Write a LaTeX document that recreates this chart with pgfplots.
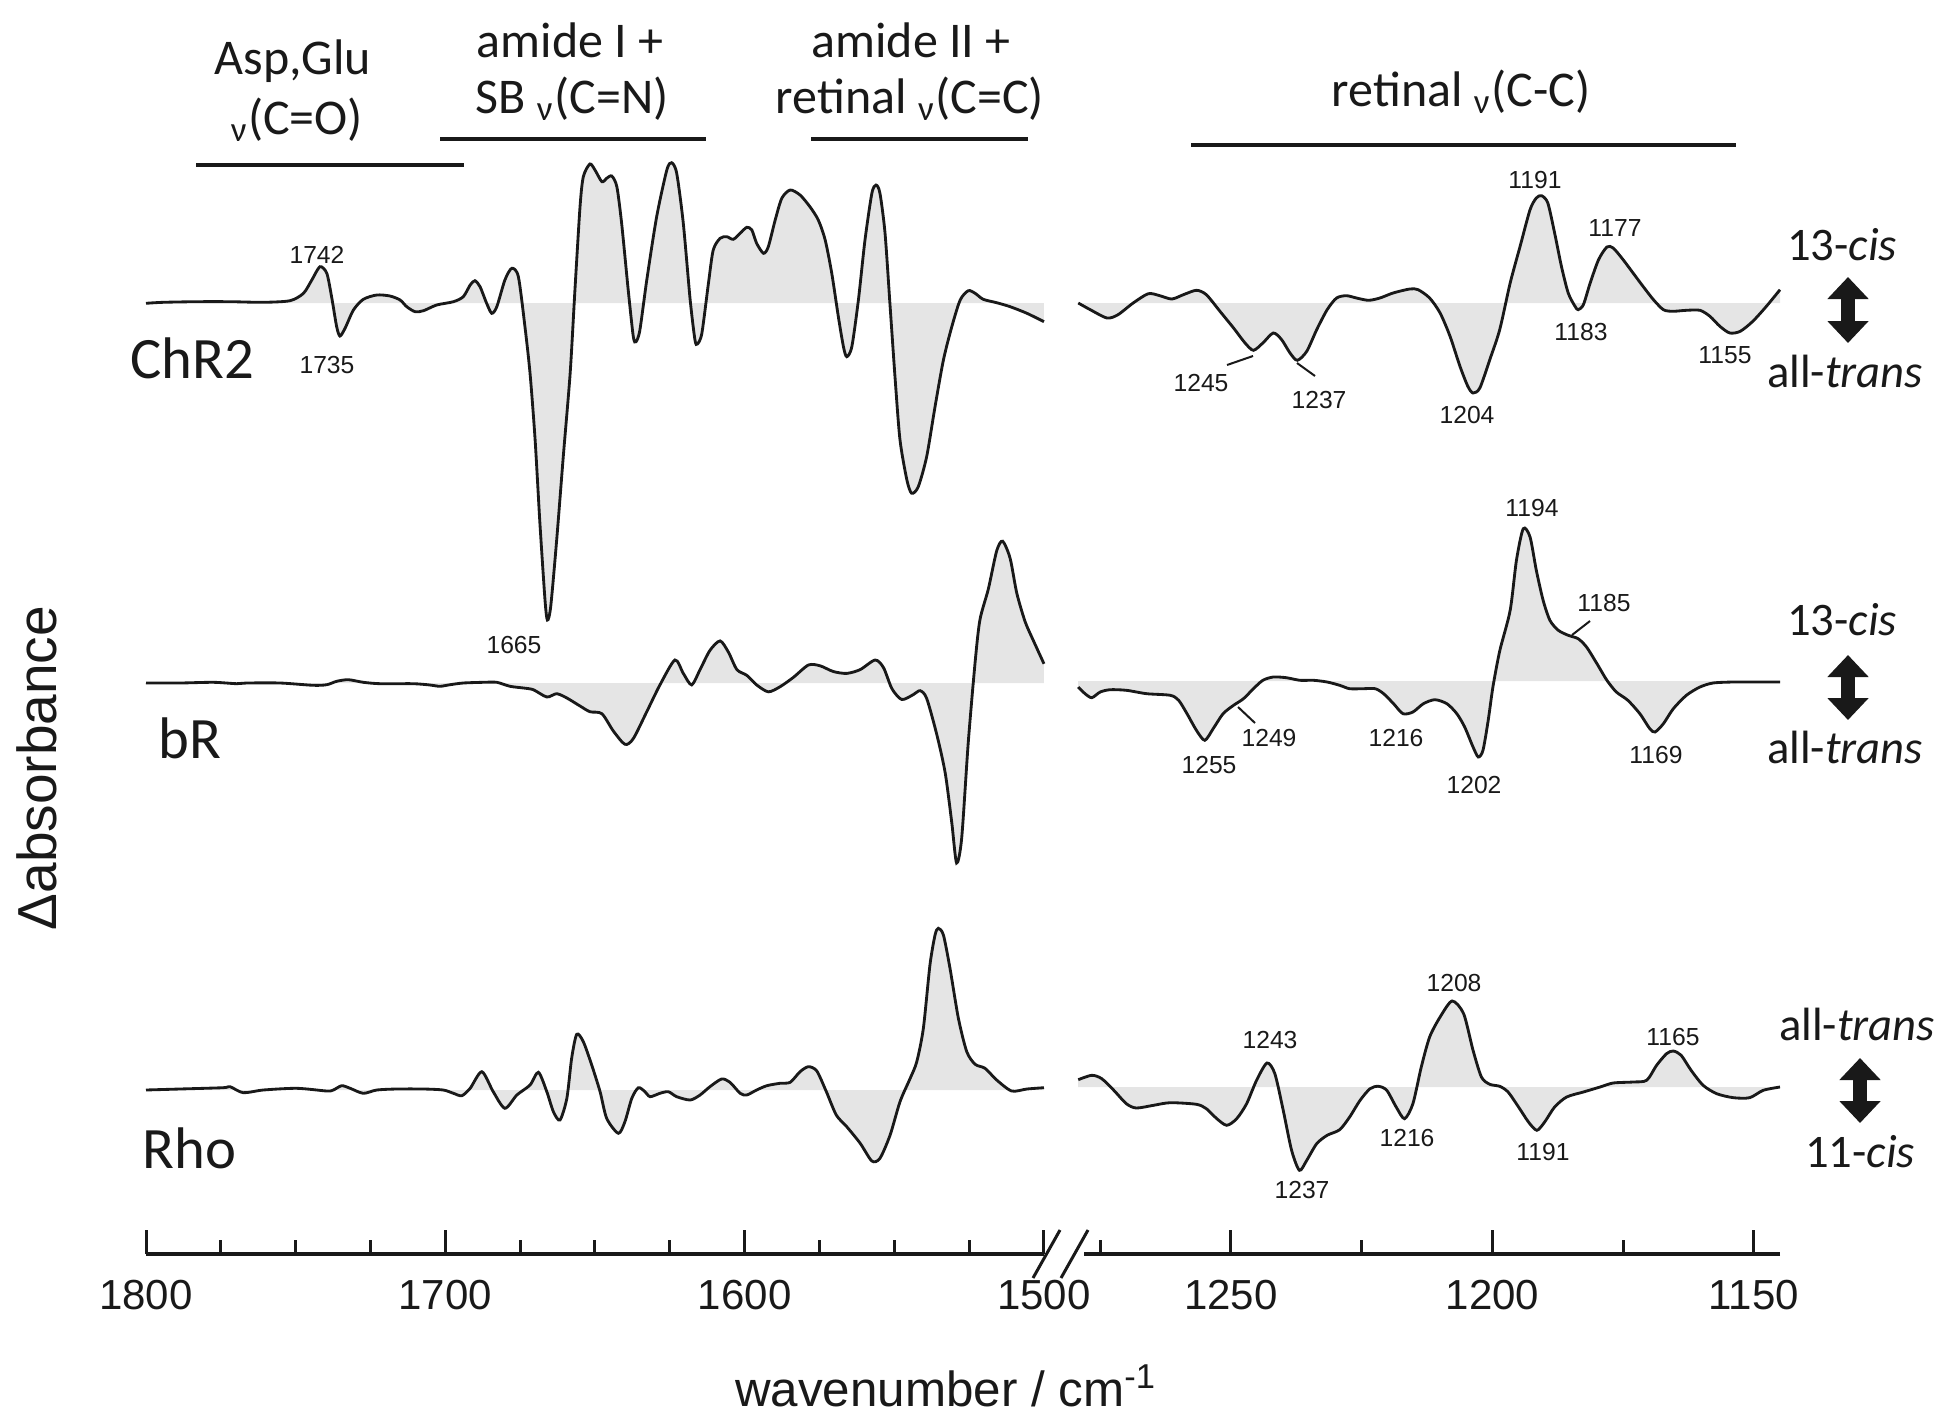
\documentclass[border=0pt]{standalone}
\usepackage{fontspec}
\setmainfont{Carlito}
\newfontfamily\arialf{Liberation Sans}
\usepackage{pgfplots}
\pgfplotsset{compat=1.18}
\usepackage{pgfplotstable}
\usepgfplotslibrary{fillbetween}
\usetikzlibrary{arrows.meta}
\definecolor{fillg}{RGB}{229,229,229}
\definecolor{ink}{RGB}{25,25,25}

% difference spectra, d = height above the own baseline (1 unit = 1 px of the figure)
\pgfplotstableread{
w d
1800 -0.3
1794.2 0.7
1783.1 1.3
1771.9 1.3
1760.8 0.7
1751.9 2.3
1747.4 9.7
1744.6 23
1741.9 36.3
1739.6 29.7
1738.0 6.3
1736.3 -23.7
1735.2 -33
1733.5 -25.3
1730.7 -7
1727.4 3.7
1722.9 8
1718.5 7
1715.1 3
1712.9 -3.7
1710.1 -8.7
1707.3 -7.7
1702.9 -2
1697.3 1.3
1694.0 6.3
1691.7 18
1690.1 22.3
1688.4 16.3
1686.2 -0.3
1684.5 -10.3
1682.8 -3.7
1680.1 23
1677.8 34.7
1675.6 26.3
1673.4 -23.7
1671.7 -70.3
1670.0 -137
1668.4 -220.3
1666.7 -297
1665.9 -317
1664.8 -303.7
1662.8 -237
1660.6 -153.7
1658.3 -70.3
1656.7 13
1655.0 96.3
1653.9 126.3
1651.7 139
1650.0 133
1647.7 121.3
1646.1 124.7
1644.4 127
1642.7 116.3
1641.1 79.7
1638.9 13
1637.2 -33.7
1636.3 -38.7
1635.0 -27
1632.7 23
1629.4 86.3
1626.0 133
1624.4 140.3
1622.7 129.7
1620.5 79.7
1618.2 3
1616.6 -37
1615.8 -41
1614.3 -30.3
1612.1 19.7
1610.5 53
1608.2 64.7
1606.0 66.3
1603.8 63.7
1601.5 69.7
1599.3 75.7
1597.6 73
1596.0 59.7
1593.7 49.7
1592.1 56.3
1589.8 83
1587.6 104.7
1584.8 113
1581.5 108
1578.2 96.3
1575.4 83
1573.1 63
1570.9 29.7
1568.7 -13.7
1567.0 -43.7
1565.9 -53.7
1564.2 -43.7
1562.0 3
1559.8 63
1557.5 109.7
1556.1 118
1554.8 109.7
1553.1 69.7
1551.4 -3.7
1549.7 -77
1548.1 -137
1545.8 -177
1544.2 -190.3
1542.0 -183.7
1539.2 -153.7
1536.4 -103.7
1533.6 -57
1530.8 -23.7
1528.0 3
1525.3 12.3
1523.0 9.7
1520.3 3.7
1515.8 0.3
1511.3 -3.7
1505.7 -10.3
1500 -18.7
}\chrL

\pgfplotstableread{
w d
1279.2 0
1276.9 -6.7
1273.7 -15
1271.6 -11.7
1268.7 0
1265.8 9.3
1263.6 7.3
1261.3 4
1259.1 8.3
1256.6 12.7
1254.7 8.3
1252.1 -8.3
1249.5 -25
1247.3 -40
1245.7 -47.3
1243.9 -40
1241.9 -30
1240.3 -36.7
1238.7 -50
1237.3 -57.3
1235.5 -48.3
1233.6 -26.7
1231.6 -6.7
1229.8 5
1227.9 7.3
1226.0 5
1223.7 2.7
1221.5 5
1219.0 10
1215.8 14
1214.2 13.3
1212.0 5
1210.0 -10
1208.1 -33.3
1206.2 -63.3
1204.7 -83.3
1203.7 -90
1202.4 -85
1200.5 -56.7
1198.6 -26.7
1196.6 20
1194.7 56.7
1192.8 93.3
1191.6 105
1190.6 107.3
1189.4 100
1188.1 70
1186.8 36.7
1185.5 10
1184.2 -3.3
1183.6 -6.7
1182.6 -1.7
1181.3 20
1179.7 43.3
1178.1 56
1176.9 55
1175.0 43.3
1173.1 30
1171.2 16.7
1169.2 3.3
1167.3 -6.7
1165.5 -8.3
1162.9 -7.3
1160.3 -7.3
1158.4 -13.3
1156.5 -23.3
1154.6 -30
1152.6 -28.3
1150.2 -18.3
1147.6 -3.3
1145.0 13.3
}\chrR

\pgfplotstableread{
w d
1800 0
1788.6 0
1777.5 0.7
1769.7 -0.7
1766.4 0
1755.2 0
1744.1 -2.3
1739.6 -1.7
1736.3 1.7
1732.4 3.3
1727.4 0.7
1721.8 -0.7
1710.7 -0.7
1705.1 -2
1701.8 -3.3
1698.4 -1.7
1694.0 0
1687.3 0.7
1682.8 0.7
1678.4 -3.3
1673.9 -5
1670.6 -6.7
1666.1 -14
1662.8 -10.7
1659.4 -15
1655.0 -23
1651.7 -28.7
1647.7 -30.7
1643.9 -47.9
1640.0 -61.3
1637.2 -55.6
1632.7 -28.7
1628.3 -1.9
1623.3 23
1620.5 9.6
1617.7 -1.9
1614.9 13.4
1611.6 32.6
1608.2 42.1
1605.4 30.7
1602.6 13.4
1599.3 7.7
1596.0 -1.9
1592.1 -8.8
1588.2 -3.8
1583.7 5.7
1578.7 18
1574.8 17.2
1570.4 11.5
1565.9 9.6
1561.4 13.4
1556.4 23
1553.6 15.3
1550.8 -5.7
1547.5 -16.5
1543.6 -11.5
1541.4 -7.7
1539.2 -15.3
1535.8 -51.7
1533.0 -90
1530.8 -139.8
1529.2 -180
1527.5 -155.2
1525.3 -59.4
1523.0 21.1
1521.4 63.2
1518.6 93.9
1515.8 132.2
1513.8 141.8
1511.3 124.5
1509.1 90
1506.3 61.3
1503.5 42.1
1500 19.2
}\bRL

\pgfplotstableread{
w d
1279.2 -6
1277.9 -12.7
1276.6 -16.7
1275.0 -11
1273.1 -8.7
1270.0 -9.3
1266.1 -12.7
1261.6 -14.3
1260.0 -19.3
1258.4 -32.7
1256.6 -49.3
1255.0 -59.3
1253.4 -47.7
1251.5 -32.7
1249.5 -24.3
1247.6 -17.7
1245.7 -7.7
1243.9 0.7
1241.9 4
1239.4 3.3
1236.8 0.7
1234.2 0.7
1231.6 -1
1229.2 -4.3
1227.3 -7.7
1224.7 -7.7
1222.4 -7.7
1220.8 -12.7
1218.9 -22.7
1217.1 -32.7
1215.2 -31
1213.2 -22.7
1211.0 -18.7
1208.7 -22.7
1206.8 -32.7
1205.3 -46
1203.7 -66
1202.7 -76
1201.8 -69.3
1200.8 -39.3
1199.9 -6
1198.6 30
1196.6 70.7
1195.4 120.7
1194.1 152.3
1192.8 144
1191.6 110.7
1190.3 80.7
1189.0 60.7
1187.4 50.7
1185.5 45.7
1183.6 42.3
1182.0 34
1180.0 17.3
1178.1 0.7
1176.3 -11
1174.1 -19.3
1171.8 -32.7
1169.9 -47.7
1168.9 -51
1167.3 -42.7
1165.4 -27.7
1162.9 -14.3
1160.3 -6
1157.8 -2
1153.9 -1
1148.9 -1
1145.0 -1
}\bRR

\pgfplotstableread{
w d
1800 0
1788.6 1
1774.2 2.3
1771.9 3.3
1767.5 -2.7
1760.8 0
1749.6 1.7
1739.6 -1
1737.4 0
1734.6 4.3
1731.8 1.7
1727.4 -3.3
1722.9 0
1716.2 1
1707.3 1
1700.7 0
1697.3 -3.3
1694.5 -5.7
1691.7 1.7
1687.8 18.3
1684.0 -1.7
1680.1 -18.3
1676.1 -5
1671.7 5
1668.9 17.7
1666.1 -1.7
1663.9 -21.7
1661.7 -30
1659.4 -8.3
1657.8 31.7
1656.1 55.7
1653.9 48.3
1651.1 25
1648.3 -1.7
1646.1 -28.3
1642.2 -43.3
1640.0 -31.7
1637.7 -8.3
1635.5 2.3
1633.3 -1.7
1631.6 -6.7
1628.3 -3.3
1625.5 -1.7
1622.7 -6.7
1618.2 -10
1614.9 -5
1611.6 3.3
1607.7 11
1604.9 7.7
1601.5 -3.3
1599.3 -5
1596.0 0
1592.6 4.3
1588.2 6.7
1584.8 7.7
1581.5 18.3
1578.7 23.3
1575.9 19
1572.7 -1.7
1569.4 -25
1565.9 -36.7
1561.4 -53.3
1557.5 -71
1554.8 -68.3
1551.4 -45
1548.1 -11.7
1544.7 11.7
1542.5 28.3
1540.3 61.7
1538.1 125
1536.4 155
1535.3 161.7
1533.6 155
1531.4 121.7
1528.6 71.7
1525.8 38.3
1523.0 25.7
1519.7 21.7
1515.8 10
1510.8 -1
1505.7 1
1500 2.3
}\rhoL

\pgfplotstableread{
w d
1279.2 7.3
1276.6 11.7
1274.7 8.3
1272.4 -3.3
1270.0 -16.7
1268.1 -21
1264.8 -18.3
1261.6 -15.7
1256.6 -17.3
1254.7 -21.7
1252.7 -31.7
1250.8 -38.3
1248.9 -31.7
1247.0 -16.7
1245.1 6.7
1243.1 24
1241.6 13.3
1240.0 -23.3
1238.4 -63.3
1236.9 -83.3
1235.5 -73.3
1233.6 -56.7
1231.6 -48.3
1229.2 -42.7
1227.3 -30
1225.3 -13.3
1223.4 -1.7
1221.8 0.7
1220.2 -3.3
1218.4 -20
1216.8 -31.7
1215.2 -16.7
1213.6 20
1212.0 50
1210.0 70
1207.7 86
1205.5 73.3
1203.7 36.7
1202.1 10
1200.5 2.7
1198.6 0.7
1197.0 -5
1195.0 -20
1193.1 -35
1191.5 -43.3
1190.0 -35
1188.1 -20
1185.8 -10
1182.6 -5
1179.4 0
1176.9 4
1173.1 5
1170.5 6.7
1168.6 21.7
1166.7 33.3
1165.4 36
1163.9 31.7
1162.0 16.7
1159.7 1.7
1157.1 -6.7
1153.9 -10.7
1150.8 -10.7
1148.2 -3.3
1145.0 0
}\rhoR

\pgfplotsset{
  brk/.style={anchor=south west, scale only axis, height=376.2pt,
    ymin=162, ymax=1416, x dir=reverse,
    axis x line*=bottom, axis y line=none,
    axis line style={line width=1.1pt, ink},
    tick align=inside, major tick length=7.2pt, minor tick length=4.2pt,
    tick style={line width=0.9pt, ink},
    clip=false, set layers,
    xticklabel style={font=\arialf\fontsize{12.6}{14}\selectfont, ink, yshift=-4.2pt},
    /pgf/number format/1000 sep={},
    /pgf/number format/assume math mode=true},
  sp/.style={ink, line width=0.85pt, smooth, tension=0.45, no markers},
  gf/.style={fillg, draw=none},
}

\begin{document}
\begin{tikzpicture}[x=0.3pt,y=0.3pt]

% ---------- 1800-1500 ----------
\begin{axis}[brk, at={(43.8pt,48.6pt)}, width=269.4pt,
  xmin=1500, xmax=1800,
  xtick={1500,1600,1700,1800},
  minor xtick={1525,1550,1575,1625,1650,1675,1725,1750,1775}]
\addplot[name path=a1, sp] table[x=w, y expr=\thisrow{d}+1113] {\chrL};
\addplot[name path=z1, draw=none] coordinates {(1800,1113) (1500,1113)};
\addplot[gf] fill between[of=a1 and z1];
\addplot[name path=a2, sp] table[x=w, y expr=\thisrow{d}+733] {\bRL};
\addplot[name path=z2, draw=none] coordinates {(1800,733) (1500,733)};
\addplot[gf] fill between[of=a2 and z2];
\addplot[name path=a3, sp] table[x=w, y expr=\thisrow{d}+326] {\rhoL};
\addplot[name path=z3, draw=none] coordinates {(1800,326) (1500,326)};
\addplot[gf] fill between[of=a3 and z3];
\end{axis}

% ---------- 1278-1145 ----------
\begin{axis}[brk, at={(325.2pt,48.6pt)}, width=208.8pt,
  xmin=1145, xmax=1278.1,
  xtick={1150,1200,1250}, minor xtick={1175,1225,1275}]
\addplot[name path=b1, sp] table[x=w, y expr=\thisrow{d}+1113] {\chrR};
\addplot[name path=y1, draw=none] coordinates {(1279.2,1113) (1145,1113)};
\addplot[gf] fill between[of=b1 and y1];
\addplot[name path=b2, sp] table[x=w, y expr=\thisrow{d}+735] {\bRR};
\addplot[name path=y2, draw=none] coordinates {(1279.2,735) (1145,735)};
\addplot[gf] fill between[of=b2 and y2];
\addplot[name path=b3, sp] table[x=w, y expr=\thisrow{d}+329] {\rhoR};
\addplot[name path=y3, draw=none] coordinates {(1279.2,329) (1145,329)};
\addplot[gf] fill between[of=b3 and y3];
\end{axis}

% ---------- annotations, in figure pixels (y downwards) ----------
\begin{scope}[shift={(0pt,424.8pt)}, x=0.3pt, y=-0.3pt, ink]
% axis break
\draw[line width=0.9pt] (1033,1278) -- (1060,1230);
\draw[line width=0.9pt] (1061,1278) -- (1088,1230);

% band headers
\begin{scope}[font=\fontsize{15}{18}\selectfont]
\node[anchor=base] at (293,74) {Asp,Glu};
\node[anchor=base] at (297,134) {\textsubscript{ν}(C=O)};
\node[anchor=base] at (570,57) {amide I +};
\node[anchor=base] at (572,113) {SB \textsubscript{ν}(C=N)};
\node[anchor=base] at (911,57) {amide II +};
\node[anchor=base] at (910,113) {retinal \textsubscript{ν}(C=C)};
\node[anchor=base] at (1461,106) {retinal \textsubscript{ν}(C-C)};
\end{scope}
\draw[line width=1pt] (196,165) -- (464,165);
\draw[line width=1pt] (440,139) -- (706,139);
\draw[line width=1pt] (811,139) -- (1028,139);
\draw[line width=1pt] (1191,145) -- (1736,145);

% sample names
\begin{scope}[font=\fontsize{17.6}{20}\selectfont]
\node[anchor=base west, inner sep=0] at (130,378) {ChR2};
\node[anchor=base west, inner sep=0] at (158,758) {bR};
\node[anchor=base west, inner sep=0] at (142,1168) {Rho};
\end{scope}

% isomerisation
\begin{scope}[font=\fontsize{14}{16}\selectfont]
\node[anchor=base] at (1842,260) {13-\textit{cis}};
\node[anchor=base] at (1845,387) {all-\textit{trans}};
\node[anchor=base] at (1842,635) {13-\textit{cis}};
\node[anchor=base] at (1845,763) {all-\textit{trans}};
\node[anchor=base] at (1857,1040) {all-\textit{trans}};
\node[anchor=base] at (1860,1167) {11-\textit{cis}};
\end{scope}
\begin{scope}[line width=4.2pt, {Triangle[width=12pt,length=6.6pt]}-{Triangle[width=12pt,length=6.6pt]}]
\draw (1848,277) -- (1848,343);
\draw (1848,655) -- (1848,720);
\draw (1860,1058) -- (1860,1123);
\end{scope}

% peak positions
\begin{scope}[font=\arialf\fontsize{7.4}{9}\selectfont, inner sep=0]
\node at (317,255) {1742};
\node at (327,365) {1735};
\node at (514,645) {1665};
\node at (1201,383) {1245};
\node at (1319,400) {1237};
\node at (1467,415) {1204};
\node at (1535,180) {1191};
\node at (1615,228) {1177};
\node at (1581,332) {1183};
\node at (1725,355) {1155};
\node at (1209,765) {1255};
\node at (1269,738) {1249};
\node at (1396,738) {1216};
\node at (1474,785) {1202};
\node at (1532,508) {1194};
\node at (1604,603) {1185};
\node at (1656,755) {1169};
\node at (1270,1040) {1243};
\node at (1302,1190) {1237};
\node at (1407,1138) {1216};
\node at (1454,983) {1208};
\node at (1543,1152) {1191};
\node at (1673,1037) {1165};
\end{scope}
\draw[line width=0.6pt] (1227,365) -- (1253,356);
\draw[line width=0.6pt] (1297,363) -- (1315,376);
\draw[line width=0.6pt] (1238,707) -- (1255,723);
\draw[line width=0.6pt] (1572,635) -- (1590,621);

% axis titles
\node[rotate=90, font=\arialf\fontsize{16.5}{18}\selectfont] at (37,768) {Δabsorbance};
\node[anchor=base, font=\arialf\fontsize{14.8}{17}\selectfont] at (946,1406) {wavenumber / cm\textsuperscript{-1}};
\end{scope}

\pgfresetboundingbox
\useasboundingbox (0,0) rectangle (1942,1416);
\end{tikzpicture}
\end{document}
